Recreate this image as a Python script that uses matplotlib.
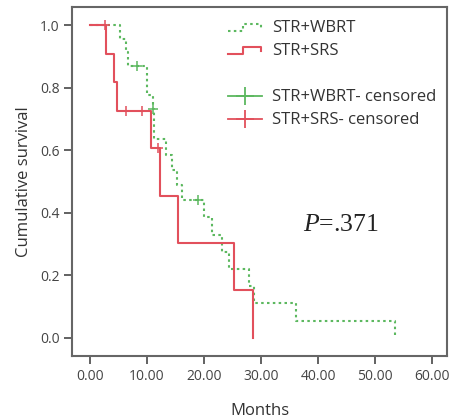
import matplotlib
matplotlib.use("Agg")
import matplotlib.pyplot as plt
from matplotlib.lines import Line2D
from matplotlib.legend_handler import HandlerBase

# Kaplan-Meier curves (months, cumulative survival)
wbrt_time = [0, 5.3, 6.3, 6.7, 10.0, 11.1, 11.2, 13.4, 14.3, 15.2, 16.1,
             20.0, 21.3, 23.1, 24.3, 27.8, 28.8, 36.1, 53.5]
wbrt_surv = [1.0, 0.957, 0.913, 0.870, 0.778, 0.733, 0.635, 0.586, 0.537,
             0.488, 0.44, 0.385, 0.33, 0.275, 0.22, 0.165, 0.11, 0.055, 0.0]
wbrt_cens_time = [8.2, 11.1, 19.0]
wbrt_cens_surv = [0.870, 0.733, 0.44]

srs_time = [0, 2.8, 4.2, 4.7, 10.6, 12.2, 15.4, 25.3, 28.5]
srs_surv = [1.0, 0.909, 0.818, 0.727, 0.606, 0.455, 0.303, 0.152, 0.0]
srs_cens_time = [2.7, 6.3, 9.1, 11.9]
srs_cens_surv = [1.0, 0.727, 0.727, 0.606]

x_ticks = [0, 10, 20, 30, 40, 50, 60]
y_ticks = [0.0, 0.2, 0.4, 0.6, 0.8, 1.0]
p_text = "=.371"

green = "#5cb85f"
red = "#e2505c"

plt.rcParams['font.family'] = ['Open Sans', 'DejaVu Sans']
plt.rcParams['mathtext.fontset'] = 'custom'
plt.rcParams['mathtext.it'] = 'Liberation Serif:italic'
plt.rcParams['mathtext.rm'] = 'Liberation Serif'


class StepHandler(HandlerBase):
    # legend handle drawn as a small step, like SPSS does
    def create_artists(self, legend, orig_handle, xdescent, ydescent,
                       width, height, fontsize, trans):
        x0, y0 = -xdescent, -ydescent
        xs = [x0, x0 + 0.45 * width, x0 + 0.45 * width, x0 + 0.95 * width, x0 + 0.95 * width]
        ys = [y0 + 0.15 * height, y0 + 0.15 * height, y0 + 0.75 * height,
              y0 + 0.75 * height, y0 + 0.35 * height]
        line = Line2D(xs, ys)
        line.update_from(orig_handle)
        line.set_marker('')
        line.set_transform(trans)
        return [line]


fig = plt.figure(figsize=(4.53, 4.2), dpi=100)
ax = fig.add_axes([0.159, 0.152, 0.828, 0.831])

l1, = ax.step(wbrt_time, wbrt_surv, where='post', color=green, lw=1.5,
              linestyle=(0, (1.2, 1.6)), label="STR+WBRT")
l2, = ax.step(srs_time, srs_surv, where='post', color=red, lw=1.5,
              label="STR+SRS")
ax.plot(wbrt_cens_time, wbrt_cens_surv, linestyle='none', marker='+',
        color=green, markersize=6.5, mew=1.1)
ax.plot(srs_cens_time, srs_cens_surv, linestyle='none', marker='+',
        color=red, markersize=6.5, mew=1.1)

ax.text(44, 0.36, r"$P$" + p_text, family='Liberation Serif', fontsize=18.5,
        ha='center', va='center', color='#222222')

ax.set_xlim(-3.16, 62.6)
ax.set_ylim(-0.059, 1.058)
ax.set_xticks(x_ticks)
ax.set_xticklabels([f"{v:.2f}" for v in x_ticks])
ax.set_yticks(y_ticks)
ax.set_yticklabels([f"{v:.1f}" for v in y_ticks])
ax.tick_params(direction='out', length=6, width=1.3, color='#555555',
               labelsize=10, labelcolor='#444444', pad=3)
for s in ax.spines.values():
    s.set_color('#666666')
    s.set_linewidth(1.5)

ax.set_xlabel("Months", fontsize=12, color='#333333', labelpad=14)
ax.set_ylabel("Cumulative survival", fontsize=12, color='#333333', labelpad=6)

blank = Line2D([], [], color='none')
c1 = Line2D([], [], color=green, marker='+', markersize=13, mew=1.3, lw=1.3)
c2 = Line2D([], [], color=red, marker='+', markersize=13, mew=1.3, lw=1.3)
ax.legend([l1, l2, blank, c1, c2],
          ["STR+WBRT", "STR+SRS", " ", "STR+WBRT- censored", "STR+SRS- censored"],
          handler_map={l1: StepHandler(), l2: StepHandler()},
          loc='upper left', bbox_to_anchor=(0.416, 0.962), frameon=False,
          borderpad=0, borderaxespad=0, fontsize=12, handlelength=2.05,
          handletextpad=0.6, labelspacing=0.42, labelcolor='#333333')

fig.savefig("out.png", dpi=100)
